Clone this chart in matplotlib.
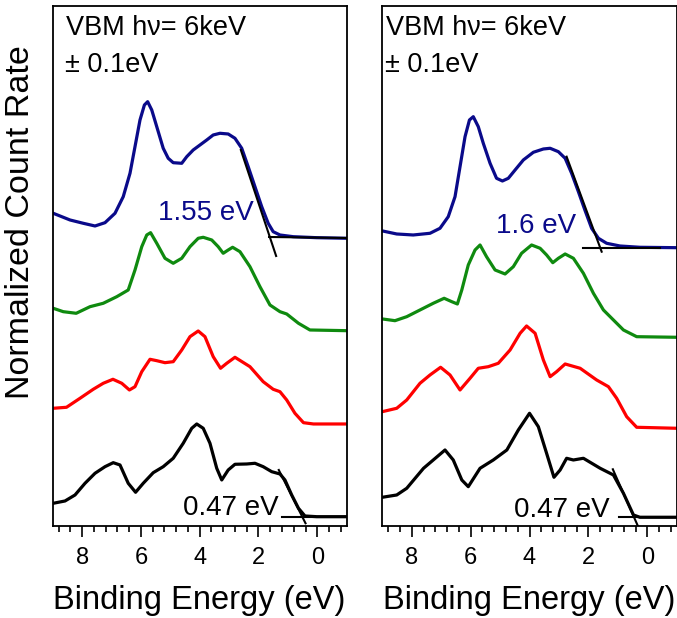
import matplotlib
matplotlib.use('Agg')
import matplotlib.pyplot as plt
from matplotlib.ticker import MultipleLocator

plt.rcParams['font.family'] = ['Liberation Sans', 'DejaVu Sans']

# binding energy (eV) and stacked intensity (arb. units)
# ---- left panel ----
l_blue_x = [8.98, 8.41, 7.96, 7.56, 7.22, 6.88, 6.6, 6.37, 6.2, 6.03, 5.88, 5.77, 5.63, 5.46, 5.24, 5.07, 4.9, 4.61, 4.44, 4.22,
            3.99, 3.76, 3.54, 3.31, 3.03, 2.8, 2.57, 2.35, 2.12, 1.89, 1.67, 1.5, 1.27, 0.82, 0.02, -1.0]
l_blue_y = [312.7, 306, 302.7, 300, 303.3, 312.7, 329.3, 352.7, 379.3, 406, 421, 424.3, 416, 399.3, 377.7, 367.7, 363.3, 362.7, 369.3, 376,
            381, 386, 391, 392.7, 392, 387.7, 377.7, 359.3, 339.3, 319.3, 302.7, 294.3, 291, 289.3, 288.3, 287.7]
l_green_x = [8.98, 8.64, 8.2, 7.73, 7.28, 6.82, 6.43, 6.2, 5.97, 5.8, 5.67, 5.46, 5.18, 4.9, 4.61, 4.33, 4.05, 3.88, 3.59, 3.37,
             3.2, 3.03, 2.88, 2.63, 2.29, 1.95, 1.61, 1.27, 1.04, 0.64, 0.25, -1.0]
l_green_y = [217.7, 214.3, 212.7, 219.3, 222.7, 229.3, 236, 256, 279.3, 291, 293.3, 282.7, 267.7, 262.7, 267.7, 279.3, 287.7, 288.7, 286, 279.3,
             272.7, 276, 278.7, 274.3, 259.3, 239.3, 221, 214.3, 212, 202.7, 196, 195.3]
l_red_x = [8.98, 8.53, 8.07, 7.62, 7.28, 6.95, 6.65, 6.39, 6.2, 5.97, 5.69, 5.46, 5.18, 4.9, 4.61, 4.33, 4.05, 3.82, 3.54, 3.29,
           3.08, 2.8, 2.29, 1.84, 1.5, 1.27, 1.04, 0.76, 0.47, 0.13, -1.0]
l_red_y = [117.7, 118.7, 127.7, 136.7, 142.7, 146.7, 142.7, 136, 139.3, 154.3, 166.7, 165.3, 163.3, 164.3, 176, 189.3, 195, 189.3, 169.3, 157.7,
           162.7, 168.7, 159.3, 144.3, 136.7, 134.3, 126, 112.7, 103.3, 102, 102]
l_black_x = [8.98, 8.58, 8.24, 7.9, 7.56, 7.22, 6.94, 6.71, 6.43, 6.18, 5.92, 5.58, 5.24, 4.9, 4.56, 4.27, 4.1, 3.88, 3.65, 3.42,
             3.25, 3.03, 2.8, 2.4, 2.12, 1.84, 1.55, 1.27, 1.1, 0.87, 0.64, 0.42, 0.02, -1.0]
l_black_y = [22.7, 25, 31, 42.7, 52.7, 59.3, 63.3, 61, 42.7, 33.7, 42.7, 53.3, 59.3, 67.7, 82.7, 97.7, 102, 97.7, 82.7, 57.7,
             46, 56, 61.7, 62, 62.7, 59.3, 54.3, 52, 46, 31, 17.7, 10, 9.3, 9.3]

# ---- right panel ----
r_blue_x = [8.99, 8.51, 7.95, 7.38, 7.04, 6.76, 6.53, 6.36, 6.19, 6.04, 5.91, 5.74, 5.57, 5.34, 5.12, 4.92, 4.72, 4.49, 4.21, 3.87,
            3.53, 3.3, 3.02, 2.79, 2.57, 2.34, 2.12, 1.89, 1.66, 1.38, 0.93, 0.25, -1.0]
r_blue_y = [295, 292, 291, 292.7, 297.7, 309.3, 329.3, 359.3, 389.3, 406, 409.3, 399.3, 382.7, 362.7, 347.7, 345, 347.7, 356, 366, 373.7,
            377, 377.7, 374.3, 367.7, 352.7, 334.3, 316, 297.7, 287.7, 282.7, 280, 278.7, 278.3]
r_green_x = [8.99, 8.57, 8.17, 7.72, 7.27, 6.9, 6.64, 6.45, 6.3, 6.08, 5.85, 5.68, 5.46, 5.17, 4.83, 4.55, 4.27, 3.93, 3.64, 3.42,
             3.21, 3.02, 2.79, 2.51, 2.17, 1.83, 1.49, 1.15, 0.81, 0.36, -1.0]
r_green_y = [207, 205.3, 209.3, 216, 222.7, 227.7, 224.3, 222, 236, 261, 276, 281, 269.3, 256, 252, 259.3, 272.7, 281, 277.7, 271,
             263.3, 267.7, 272, 267.7, 252.7, 232.7, 216, 206, 196, 189.3, 188.7]
r_red_x = [9.0, 8.51, 8.17, 7.72, 7.38, 7.02, 6.7, 6.36, 6.02, 5.74, 5.4, 5.06, 4.66, 4.32, 4.1, 3.81, 3.53, 3.3, 3.08, 2.79,
           2.28, 1.72, 1.32, 1.04, 0.7, 0.36, -1.0]
r_red_y = [114.3, 117.7, 126, 142.7, 151, 158.7, 151, 136, 147.7, 157.7, 159.3, 162.7, 176, 192.7, 200, 192.7, 166, 149.3, 154.3, 162,
           157.7, 146, 139.3, 127.7, 109.3, 98.7, 97.7]
r_black_x = [9.0, 8.51, 8.17, 7.6, 6.87, 6.59, 6.3, 6.08, 5.68, 5.23, 4.77, 4.38, 4.0, 3.7, 3.42, 3.17, 2.96, 2.74, 2.51, 2.17,
             1.6, 1.15, 0.81, 0.47, 0.25, -1.0]
r_black_y = [28.7, 31, 37.7, 57.7, 76, 66, 46, 39.3, 57.7, 66, 76, 96, 112.7, 99.3, 72.7, 48.7, 56, 67.7, 66, 67.7,
             57.7, 51, 32.7, 11, 8.7, 8.7]

# leading-edge fits (edge line, baseline)
l_blue_edge = ([2.6, 1.4], [376, 270])
l_blue_base = ([1.64, -1.0], [289, 288])
l_black_edge = ([1.31, 0.4], [56, 2.7])
l_black_base = ([1.2, -1.0], [9.3, 9.3])
r_blue_edge = ([2.74, 1.55], [369.3, 274.3])
r_blue_base = ([2.17, -0.43], [278.3, 278.3])
r_black_edge = ([1.17, 0.3], [56.7, -1.3])
r_black_base = ([0.95, -1.0], [9.3, 9.3])

vbm_top = ['1.55 eV', '1.6 eV']
vbm_bottom = ['0.47 eV', '0.47 eV']

navy = '#0a0a8a'
green = '#0f8a0f'
red = '#ff0000'

fig = plt.figure(figsize=(6.77, 6.18), dpi=100)
ax1 = fig.add_axes([0.0778, 0.1489, 0.4343, 0.8419])
ax2 = fig.add_axes([0.5647, 0.1489, 0.4349, 0.8419])

panels = [
    (ax1, [(l_blue_x, l_blue_y, navy), (l_green_x, l_green_y, green), (l_red_x, l_red_y, red), (l_black_x, l_black_y, 'k')],
     [l_blue_edge, l_blue_base, l_black_edge, l_black_base], (3.79, 306), (2.94, 11), 0.047),
    (ax2, [(r_blue_x, r_blue_y, navy), (r_green_x, r_green_y, green), (r_red_x, r_red_y, red), (r_black_x, r_black_y, 'k')],
     [r_blue_edge, r_blue_base, r_black_edge, r_black_base], (3.78, 292.7), (2.91, 9.3), 0.013),
]

for i, (ax, curves, fits, top_pos, bot_pos, tx) in enumerate(panels):
    for xs, ys, c in curves:
        ax.plot(xs, ys, color=c, lw=2.3, solid_joinstyle='round', solid_capstyle='round')
    for xs, ys in fits:
        ax.plot(xs, ys, color='k', lw=1.5, zorder=3)

    ax.text(top_pos[0], top_pos[1], vbm_top[i], color=navy, fontsize=20, ha='center', va='baseline')
    ax.text(bot_pos[0], bot_pos[1], vbm_bottom[i], color='k', fontsize=20, ha='center', va='baseline')
    ax.text(tx, 0.9437, 'VBM h\u03bd= 6keV', transform=ax.transAxes, fontsize=19.5, va='baseline')
    ax.text(tx - 0.005, 0.873, '\u00b1 0.1eV', transform=ax.transAxes, fontsize=19.5, va='baseline')

    ax.set_xlim(9, -1)
    ax.set_ylim(0, 520.3)
    ax.xaxis.set_major_locator(MultipleLocator(2))
    ax.xaxis.set_minor_locator(MultipleLocator(0.4))
    ax.tick_params(axis='x', which='major', direction='out', length=8, width=1.2, labelsize=17, pad=7)
    ax.tick_params(axis='x', which='minor', direction='out', length=4, width=1.2)
    ax.set_yticks([])
    for sp in ax.spines.values():
        sp.set_linewidth(1.3)
    ax.set_xlabel('Binding Energy (eV)', fontsize=23.5, labelpad=12)

ax1.set_ylabel('Normalized Count Rate', fontsize=24.5)
ax1.yaxis.set_label_coords(-0.055, 0.584)

fig.savefig('out.png', dpi=100)
